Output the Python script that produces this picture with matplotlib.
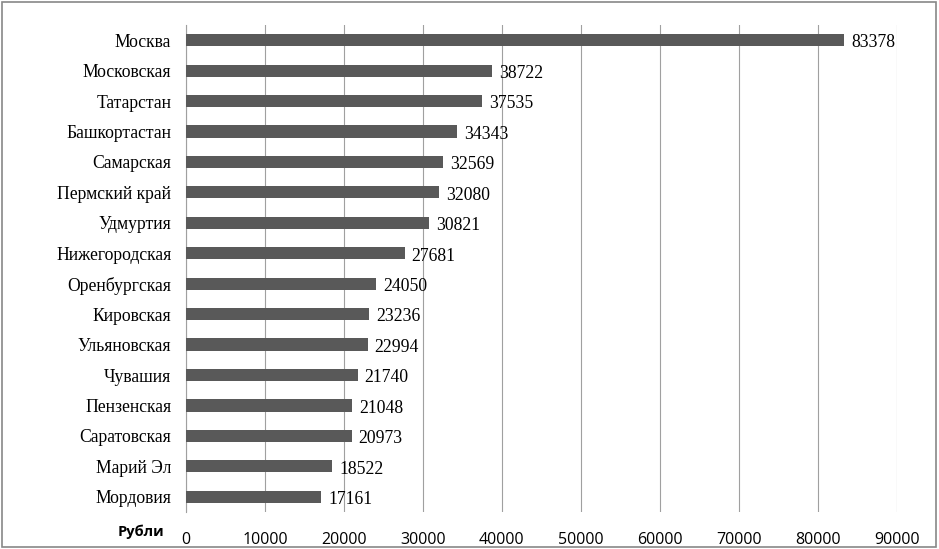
import matplotlib
matplotlib.use("Agg")
import matplotlib.pyplot as plt
from matplotlib.patches import Rectangle

regions = ["Москва", "Московская", "Татарстан", "Башкортастан", "Самарская",
           "Пермский край", "Удмуртия", "Нижегородская", "Оренбургская",
           "Кировская", "Ульяновская", "Чувашия", "Пензенская", "Саратовская",
           "Марий Эл", "Мордовия"]
values = [83378, 38722, 37535, 34343, 32569, 32080, 30821, 27681, 24050,
          23236, 22994, 21740, 21048, 20973, 18522, 17161]
xticks = [0, 10000, 20000, 30000, 40000, 50000, 60000, 70000, 80000, 90000]
axis_label = "Рубли"

fig = plt.figure(figsize=(9.39, 5.49), dpi=100)
fig.patches.append(Rectangle((0.002, 0.004), 0.995, 0.992, transform=fig.transFigure,
                             fill=False, edgecolor="#888888", linewidth=1.2))
ax = fig.add_axes([0.198, 0.0674, 0.757, 0.8871])

ypos = list(range(len(regions)))
ax.barh(ypos, values, height=0.4, color="#595959", zorder=3)
ax.set_ylim(len(regions) - 0.5, -0.5)
ax.set_xlim(xticks[0], xticks[-1])
ax.set_xticks(xticks)
ax.set_xticklabels([str(t) for t in xticks], family="Open Sans", fontsize=11.5)
ax.set_yticks(ypos)
ax.set_yticklabels(regions, family="Liberation Serif", fontsize=12.7)
ax.tick_params(axis="both", length=0)
ax.tick_params(axis="x", pad=14.5)
ax.tick_params(axis="y", pad=10.5)
ax.grid(axis="x", color="#a0a0a0", linewidth=0.8, zorder=0)
for s in ["top", "right", "bottom"]:
    ax.spines[s].set_visible(False)
ax.spines["left"].set_color("#a0a0a0")
ax.spines["left"].set_linewidth(0.8)

for y, v in zip(ypos, values):
    ax.annotate(str(v), (v, y), xytext=(5, -2), textcoords="offset points",
                va="center", ha="left", family="Liberation Serif", fontsize=12.7)

ax.text(-0.031, -0.041, axis_label, transform=ax.transAxes, ha="right", va="center",
        family="Open Sans", fontweight="bold", fontsize=10.5)

fig.savefig("out.png", dpi=100)
